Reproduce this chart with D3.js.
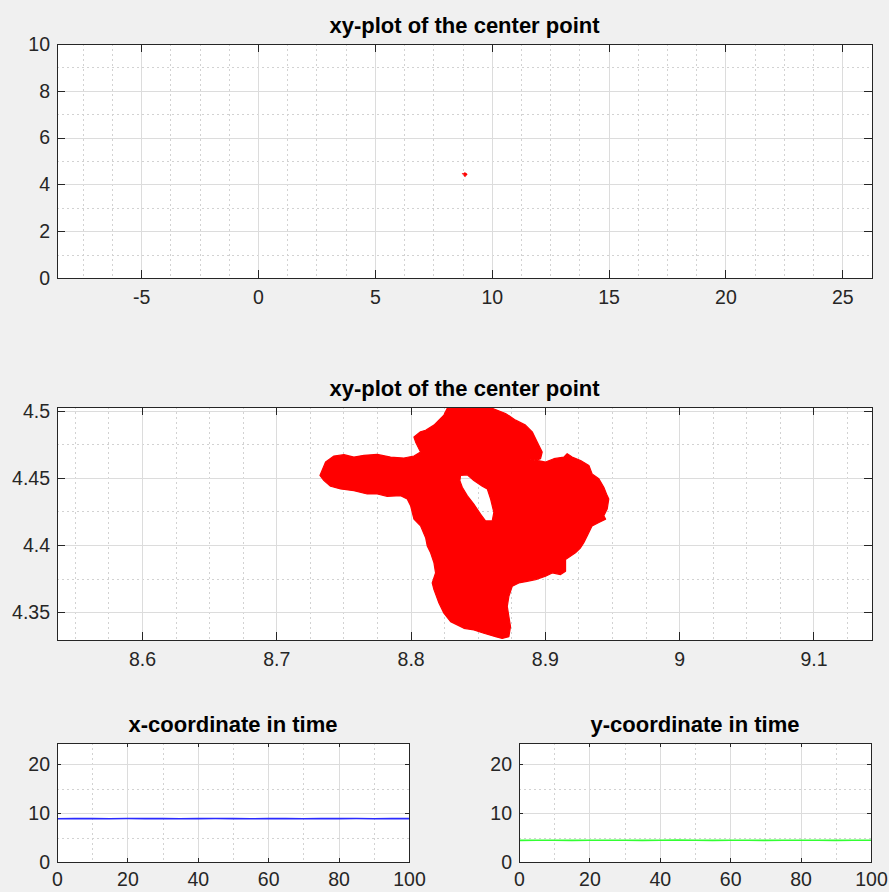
<!DOCTYPE html>
<html><head><meta charset="utf-8">
<script src="https://cdn.jsdelivr.net/npm/d3@7"></script>
<style>
html,body{margin:0;padding:0;background:#f0f0f0;}
svg{display:block;font-family:"Liberation Sans",Arial,Helvetica,sans-serif;}
</style></head><body>
<svg id="c" width="889" height="892"></svg>
<script>
// ---------- data ----------
// outline of the traced trajectory of the center point
const blobX = [8.7325,8.7367,8.7429,8.7504,8.7578,8.7653,8.7752,8.7851,8.7950,8.8025,8.8074,8.8037,8.8025,8.8074,8.8112,8.8174,8.8248,8.8273,8.8347,8.8447,8.8509,8.8608,8.8707,8.8782,8.8856,8.8906,8.8943,8.8980,8.8968,8.8931,8.8881,8.9005,8.9067,8.9141,8.9166,8.9203,8.9266,8.9328,8.9352,8.9402,8.9439,8.9464,8.9476,8.9464,8.9439,8.9452,8.9402,8.9352,8.9315,8.9290,8.9266,8.9228,8.9154,8.9154,8.9117,8.9055,8.9005,8.8931,8.8868,8.8806,8.8757,8.8732,8.8720,8.8732,8.8744,8.8732,8.8682,8.8633,8.8546,8.8471,8.8397,8.8298,8.8248,8.8211,8.8174,8.8161,8.8186,8.8174,8.8149,8.8124,8.8112,8.8074,8.8025,8.8000,8.7975,8.7926,8.7826,8.7752,8.7677,8.7578,8.7479,8.7404,8.7355];
const blobY = [4.4518,4.4618,4.4663,4.4673,4.4655,4.4668,4.4675,4.4655,4.4648,4.4663,4.4693,4.4768,4.4805,4.4843,4.4855,4.4893,4.4968,4.5018,4.5023,4.5018,4.5030,4.5018,4.4980,4.4930,4.4893,4.4843,4.4768,4.4693,4.4643,4.4630,4.4643,4.4618,4.4643,4.4655,4.4680,4.4655,4.4630,4.4593,4.4530,4.4493,4.4430,4.4368,4.4343,4.4268,4.4218,4.4193,4.4168,4.4143,4.4068,4.4018,4.3980,4.3943,4.3893,4.3805,4.3780,4.3793,4.3768,4.3743,4.3730,4.3718,4.3693,4.3618,4.3543,4.3468,4.3393,4.3318,4.3305,4.3318,4.3343,4.3368,4.3380,4.3430,4.3493,4.3568,4.3668,4.3718,4.3793,4.3868,4.3943,4.3993,4.4055,4.4143,4.4193,4.4293,4.4343,4.4368,4.4363,4.4380,4.4380,4.4405,4.4418,4.4438,4.4480];
// white gap inside the trajectory cloud
const holeX = [8.8372,8.8422,8.8471,8.8534,8.8571,8.8596,8.8620,8.8608,8.8558,8.8521,8.8471,8.8422,8.8385,8.8367];
const holeY = [4.4518,4.4523,4.4480,4.4438,4.4418,4.4343,4.4243,4.4180,4.4180,4.4230,4.4305,4.4368,4.4430,4.4480];
// time series
const timeT  = [0,5,10,15,20,25,30,35,40,45,50,55,60,65,70,75,80,85,90,95,100];
const xCoord = [8.84,8.86,8.85,8.83,8.87,8.85,8.86,8.84,8.85,8.88,8.85,8.84,8.86,8.85,8.83,8.86,8.85,8.87,8.84,8.85,8.86];
const yCoord = [4.42,4.44,4.43,4.41,4.45,4.43,4.44,4.42,4.43,4.46,4.43,4.42,4.44,4.43,4.41,4.44,4.43,4.45,4.42,4.43,4.44];
// ticks
const topXTicks = [-5,0,5,10,15,20,25];
const topYTicks = [0,2,4,6,8,10];
const midXTicks = [8.6,8.7,8.8,8.9,9,9.1];
const midYTicks = [4.35,4.4,4.45,4.5];
const timeXTicks = [0,20,40,60,80,100];
const timeYTicks = [0,10,20];
const titles = ["xy-plot of the center point","xy-plot of the center point","x-coordinate in time","y-coordinate in time"];

// ---------- drawing ----------
const svg = d3.select("#c");
svg.append("rect").attr("width",889).attr("height",892).attr("fill","#f0f0f0");
const AX = "#262626";
let clipId = 0;

function minorVals(domain, step, majors) {
  const out = [];
  const s = Math.ceil(domain[0]/step - 1e-9), e = Math.floor(domain[1]/step + 1e-9);
  for (let i = s; i <= e; i++) {
    const v = i*step;
    if (!majors.some(m => Math.abs(m - v) < step*1e-3)) out.push(v);
  }
  return out;
}

function panel(c) {
  const x = d3.scaleLinear().domain(c.xDomain).range([c.left, c.right]);
  const y = d3.scaleLinear().domain(c.yDomain).range([c.bottom, c.top]);
  const g = svg.append("g");
  g.append("rect").attr("x",c.left).attr("y",c.top).attr("width",c.right-c.left).attr("height",c.bottom-c.top).attr("fill","#fff");
  const id = "clip"+(clipId++);
  g.append("clipPath").attr("id",id).append("rect").attr("x",c.left).attr("y",c.top).attr("width",c.right-c.left).attr("height",c.bottom-c.top);
  const grid = g.append("g").attr("shape-rendering","crispEdges");
  // minor grid
  minorVals(c.xDomain, c.xMinor, c.xTicks).forEach(v => {
    grid.append("line").attr("x1",Math.round(x(v))+0.5).attr("x2",Math.round(x(v))+0.5).attr("y1",c.top).attr("y2",c.bottom)
      .attr("stroke","#d2d2d2").attr("stroke-dasharray","2,3");
  });
  minorVals(c.yDomain, c.yMinor, c.yTicks).forEach(v => {
    grid.append("line").attr("y1",Math.round(y(v))+0.5).attr("y2",Math.round(y(v))+0.5).attr("x1",c.left).attr("x2",c.right)
      .attr("stroke","#d2d2d2").attr("stroke-dasharray","2,3");
  });
  // major grid
  c.xTicks.forEach(v => {
    grid.append("line").attr("x1",Math.round(x(v))+0.5).attr("x2",Math.round(x(v))+0.5).attr("y1",c.top).attr("y2",c.bottom).attr("stroke","#dcdcdc");
  });
  c.yTicks.forEach(v => {
    grid.append("line").attr("y1",Math.round(y(v))+0.5).attr("y2",Math.round(y(v))+0.5).attr("x1",c.left).attr("x2",c.right).attr("stroke","#dcdcdc");
  });
  // data
  const dg = g.append("g").attr("clip-path","url(#"+id+")");
  c.draw(dg, x, y);
  // frame
  g.append("rect").attr("x",c.left+0.5).attr("y",c.top+0.5).attr("width",c.right-c.left).attr("height",c.bottom-c.top)
    .attr("fill","none").attr("stroke",AX).attr("stroke-width",1).attr("shape-rendering","crispEdges");
  const fmt = d => String(d);
  function style(a) {
    a.select(".domain").remove();
    a.attr("font-size",null).attr("font-family",null);
    a.selectAll(".tick line").attr("stroke",AX).attr("shape-rendering","crispEdges");
    a.selectAll(".tick text").attr("fill",AX).style("font-size",c.fontSize+"px");
  }
  g.append("g").attr("transform","translate(0,"+c.bottom+")")
    .call(d3.axisBottom(x).tickValues(c.xTicks).tickSizeInner(-c.tickLen).tickSizeOuter(0).tickPadding(c.xPad).tickFormat(fmt)).call(style);
  g.append("g").attr("transform","translate(0,"+c.top+")")
    .call(d3.axisTop(x).tickValues(c.xTicks).tickSizeInner(-c.tickLen).tickSizeOuter(0).tickFormat("")).call(style);
  g.append("g").attr("transform","translate("+c.left+",0)")
    .call(d3.axisLeft(y).tickValues(c.yTicks).tickSizeInner(-c.tickLen).tickSizeOuter(0).tickPadding(c.yPad).tickFormat(fmt)).call(style);
  g.append("g").attr("transform","translate("+c.right+",0)")
    .call(d3.axisRight(y).tickValues(c.yTicks).tickSizeInner(-c.tickLen).tickSizeOuter(0).tickFormat("")).call(style);
  // title
  g.append("text").attr("x",(c.left+c.right)/2).attr("y",c.top-11).attr("text-anchor","middle")
    .attr("font-weight","bold").attr("font-size","22px").attr("fill","#000").text(c.title);
}

const blobPts = blobX.map((v,i)=>[v,blobY[i]]);
const holePts = holeX.map((v,i)=>[v,holeY[i]]);
function drawBlob(g, x, y, sw) {
  const ln = d3.line().x(d=>x(d[0])).y(d=>y(d[1])).curve(d3.curveLinearClosed);
  g.append("path").attr("d", ln(blobPts) + ln(holePts)).attr("fill","#ff0000").attr("fill-rule","evenodd")
    .attr("stroke","#ff0000").attr("stroke-width",sw).attr("stroke-linejoin","round");
}

panel({left:57,right:872,top:44,bottom:278,xDomain:[-8.6,26.27],yDomain:[0,10],
  xTicks:topXTicks,yTicks:topYTicks,xMinor:1.25,yMinor:1,tickLen:8,xPad:12,yPad:7,fontSize:19.5,title:titles[0],
  draw:(g,x,y)=>drawBlob(g,x,y,0.6)});

panel({left:57,right:872,top:407,bottom:640,xDomain:[8.5367,9.1436],yDomain:[4.3293,4.5028],
  xTicks:midXTicks,yTicks:midYTicks,xMinor:0.025,yMinor:0.025,tickLen:8,xPad:12,yPad:7,fontSize:19.5,title:titles[1],
  draw:(g,x,y)=>drawBlob(g,x,y,1.2)});

function drawSeries(vals, color) {
  return (g,x,y) => {
    const ln = d3.line().x((d,i)=>x(timeT[i])).y(d=>y(d));
    g.append("path").attr("d",ln(vals)).attr("fill","none").attr("stroke",color).attr("stroke-width",1.6);
  };
}
panel({left:57,right:409,top:743,bottom:862,xDomain:[0,100],yDomain:[0,24.3],
  xTicks:timeXTicks,yTicks:timeYTicks,xMinor:10,yMinor:5,tickLen:4,xPad:10,yPad:7,fontSize:19.5,title:titles[2],
  draw:drawSeries(xCoord,"#2b2bff")});
panel({left:519,right:871,top:743,bottom:862,xDomain:[0,100],yDomain:[0,24.3],
  xTicks:timeXTicks,yTicks:timeYTicks,xMinor:10,yMinor:5,tickLen:4,xPad:10,yPad:7,fontSize:19.5,title:titles[3],
  draw:drawSeries(yCoord,"#33ff33")});
</script>
</body></html>
